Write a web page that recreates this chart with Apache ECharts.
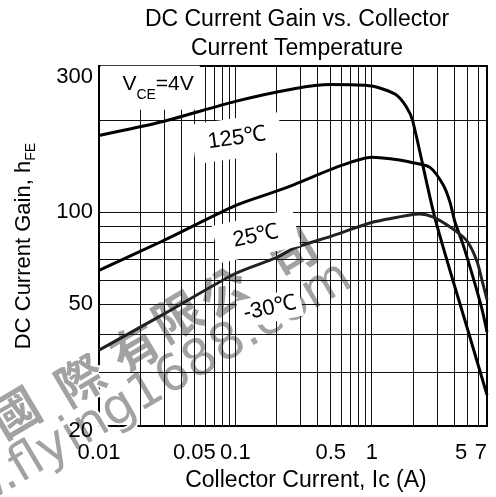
<!DOCTYPE html>
<html><head><meta charset="utf-8">
<script src="https://cdn.jsdelivr.net/npm/echarts@6/dist/echarts.min.js"></script>
<style>html,body{margin:0;padding:0;background:#fff}#c{width:496px;height:497px}</style>
</head><body><div id="c"></div>
<script>
// ---- data ----
const xTickLabels = [0.01, 0.05, 0.1, 0.5, 1, 5, 7];
const yTickLabels = [20, 50, 100, 300];
const xGridValues = [0.02,0.03,0.04,0.05,0.06,0.07,0.08,0.09,0.1,0.2,0.3,0.4,0.5,0.6,0.7,0.8,0.9,1,2,3,4,5,6];
const yGridValues = [30,40,50,60,70,80,90,100,200];

const ic125  = [0.01, 0.03, 0.1, 0.27, 0.5, 1.0, 1.5, 1.8, 2.0, 2.9, 5.25, 7];
const hfe125 = [178, 198, 230, 253, 261, 258, 242, 220, 198, 96, 39, 25.3];

const ic25  = [0.01, 0.029, 0.1, 0.2, 0.27, 0.6, 1.0, 1.6, 2.0, 2.67, 3.33, 3.74, 4.07, 4.66, 5.52, 6.43, 7];
const hfe25 = [64.5, 80.3, 105, 117, 123, 142, 151, 148, 145, 140, 123, 108, 93, 78.6, 61.4, 48.2, 40.6];

const icM30  = [0.01, 0.03, 0.1, 0.2, 0.27, 0.5, 1.0, 1.9, 2.25, 2.8, 3.9, 5.0, 5.9, 6.5, 7];
const hfeM30 = [35.4, 46.5, 63, 71, 76.3, 83.3, 92.5, 97.8, 98.5, 96.4, 88.3, 80.4, 69.2, 58.8, 51.8];

const curveNames = ['125℃', '25℃', '-30℃'];

const FONT = 'Liberation Sans, Arial, sans-serif';
const zip = (a, b) => a.map((v, i) => [v, b[i]]);
const fmt = v => {
  const s = String(parseFloat(Number(v).toPrecision(3)));
  if (s === '5') return '{l|5}';
  if (s === '20') return '{d|20}';
  return s;
};

const chart = echarts.init(document.getElementById('c'), null, {renderer: 'canvas'});

const gridLines = xGridValues.map(v => ({xAxis: v})).concat(yGridValues.map(v => ({yAxis: v})));

const subRich = {
  m: {fontSize: 21, fontFamily: FONT, color: '#000', lineHeight: 24, verticalAlign: 'top'},
  s: {fontSize: 14, fontFamily: FONT, color: '#000', lineHeight: 28, verticalAlign: 'bottom'}
};

function boxLabel(text, rotate, padding) {
  return {
    show: true, formatter: text, rotate: rotate, color: '#000',
    fontSize: 22, fontFamily: FONT, backgroundColor: '#fff', padding: padding,
    rich: subRich
  };
}

const lineStyleCurve = {color: '#000', width: 3};
const wm = {fill: '#a2a2a2', stroke: '#fff', lineWidth: 4};
const wmChars = ['國','際','有','限','公','司'];
const wmPos = [[15,412],[80,380],[135,348],[177,316],[224,292],[292,252]];

const option = {
  animation: false,
  backgroundColor: '#fff',
  title: {
    text: 'DC Current Gain vs. Collector\nCurrent Temperature',
    left: 297, top: 5, textAlign: 'center', padding: 0,
    textStyle: {fontSize: 23, fontWeight: 'normal', color: '#000', fontFamily: FONT, lineHeight: 29}
  },
  grid: {left: 99, right: 9, top: 66, bottom: 67, show: true, borderColor: '#000', borderWidth: 2, backgroundColor: '#fff'},
  xAxis: {
    type: 'log', logBase: 10, min: 0.01, max: 7,
    name: 'Collector Current, Ic (A)', nameLocation: 'middle', nameGap: 39,
    nameTextStyle: {fontSize: 23, color: '#000', fontFamily: FONT, padding: [0, 0, 0, 26]},
    axisLine: {show: false}, axisTick: {show: false}, splitLine: {show: false}, minorSplitLine: {show: false},
    axisLabel: {customValues: xTickLabels, formatter: fmt, fontSize: 22, color: '#000', fontFamily: FONT, margin: 16, alignMaxLabel: 'right',
      rich: {l: {fontSize: 22, fontFamily: FONT, color: '#000', padding: [0, 12, 0, 0]}}}
  },
  yAxis: {
    type: 'log', logBase: 10, min: 20, max: 300,
    name: 'DC Current Gain, h{s|FE}', nameLocation: 'middle', nameGap: 61, nameRotate: 90,
    nameTextStyle: {fontSize: 22, color: '#000', fontFamily: FONT,
      rich: {s: {fontSize: 14, fontFamily: FONT, color: '#000', lineHeight: 28, verticalAlign: 'bottom'}}},
    axisLine: {show: false}, axisTick: {show: false}, splitLine: {show: false}, minorSplitLine: {show: false},
    axisLabel: {customValues: yTickLabels, formatter: fmt, fontSize: 22, color: '#000', fontFamily: FONT, margin: 6, verticalAlignMaxLabel: 'top',
      rich: {d: {fontSize: 22, fontFamily: FONT, color: '#000', padding: [10, 0, 0, 0]}}}
  },
  graphic: [
    {type: 'group', z: 1.5, silent: true, children:
      wmChars.map((ch, i) => ({
        type: 'text', x: wmPos[i][0], y: wmPos[i][1], rotation: 0.535,
        style: Object.assign({text: ch, fontSize: 48, fontWeight: 'bold', fontFamily: 'Noto Sans CJK TC', align: 'center', verticalAlign: 'middle'}, wm)
      })).concat([{
        type: 'text', x: 348, y: 274, rotation: 0.535,
        style: Object.assign({text: 'www.flying1688.com', fontSize: 50, fontFamily: 'DejaVu Sans', align: 'right', verticalAlign: 'middle'}, wm)
      }])
    }
  ],
  series: [
    {
      name: curveNames[0], type: 'line', data: zip(ic125, hfe125), showSymbol: false, smooth: 0.25,
      lineStyle: lineStyleCurve, z: 3,
      markLine: {silent: true, z: 1, symbol: ['none', 'none'], label: {show: false}, emphasis: {disabled: true},
        lineStyle: {color: '#111', width: 1, type: 'solid'}, data: gridLines},
      markPoint: {silent: true, z: 10, symbol: 'circle', symbolSize: 1, itemStyle: {color: 'rgba(0,0,0,0)'},
        data: [
          {coord: [0.0237, 254.7], label: boxLabel('{m|V}{s|CE}{m|=4V}', 0, [8, 6, 8, 22])},
          {coord: [0.1027, 174.3], label: boxLabel(curveNames[0], 8, [9, 15])},
          {coord: [0.1416, 83.5], label: boxLabel(curveNames[1], 12, [8, 18])},
          {coord: [0.1793, 48.5], label: boxLabel(curveNames[2], 12, [3, 5])}
        ]}
    },
    {name: curveNames[1], type: 'line', data: zip(ic25, hfe25), showSymbol: false, smooth: 0.25, lineStyle: lineStyleCurve, z: 3},
    {name: curveNames[2], type: 'line', data: zip(icM30, hfeM30), showSymbol: false, smooth: 0.25, lineStyle: {color: '#222', width: 3}, z: 3}
  ]
};
chart.setOption(option);
</script>
</body></html>
